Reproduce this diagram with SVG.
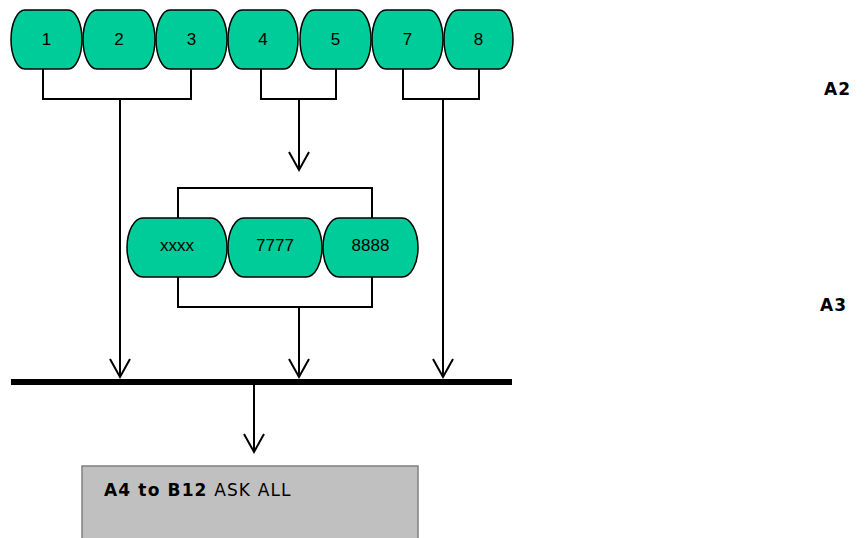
<svg xmlns="http://www.w3.org/2000/svg" width="868" height="538" viewBox="0 0 868 538">
<style>
.node rect{fill:#00CC99;stroke:#000;stroke-width:1.5}
.node text{font-family:"Liberation Sans",Arial,sans-serif;font-size:17px;fill:#000;text-anchor:middle}
.conn{fill:none;stroke:#000;stroke-width:2}
.lbl{font-family:"DejaVu Sans",Verdana,sans-serif;font-size:17px;fill:#000}
</style>
<defs>
<marker id="arr" viewBox="-20 -12 24 24" refX="0" refY="0" markerWidth="24" markerHeight="24" markerUnits="userSpaceOnUse" orient="auto">
<path d="M-18,-10 L0,0 L-18,10" fill="none" stroke="#000" stroke-width="2"/>
</marker>
</defs>
<rect width="868" height="538" fill="#fff"/>
<g id="n1" class="node"><rect x="11" y="10" width="71" height="59" rx="14" ry="29.5"/><text x="46.5" y="45">1</text></g>
<g id="n2" class="node"><rect x="83" y="10" width="72" height="59" rx="14" ry="29.5"/><text x="119" y="45">2</text></g>
<g id="n3" class="node"><rect x="156" y="10" width="71" height="59" rx="14" ry="29.5"/><text x="191.5" y="45">3</text></g>
<g id="n4" class="node"><rect x="228" y="10" width="70" height="59" rx="14" ry="29.5"/><text x="263" y="45">4</text></g>
<g id="n5" class="node"><rect x="300" y="10" width="71" height="59" rx="14" ry="29.5"/><text x="335.5" y="45">5</text></g>
<g id="n7" class="node"><rect x="372" y="10" width="71" height="59" rx="14" ry="29.5"/><text x="407.5" y="45">7</text></g>
<g id="n8" class="node"><rect x="444" y="10" width="69" height="59" rx="14" ry="29.5"/><text x="478.5" y="45">8</text></g>
<g id="nx" class="node"><rect x="127" y="218" width="100" height="59" rx="16" ry="29.5"/><text x="177" y="251">xxxx</text></g>
<g id="n7777" class="node"><rect x="228" y="218" width="94" height="59" rx="16" ry="29.5"/><text x="275" y="251">7777</text></g>
<g id="n8888" class="node"><rect x="323" y="218" width="95" height="59" rx="16" ry="29.5"/><text x="370.5" y="251">8888</text></g>
<g id="connectors">
<path class="conn" d="M43,69 V99 H191 V69"/>
<path class="conn" d="M120,99 V377" marker-end="url(#arr)"/>
<path class="conn" d="M261,69 V99 H336 V69"/>
<path class="conn" d="M299,99 V170" marker-end="url(#arr)"/>
<path class="conn" d="M403,69 V99 H479 V69"/>
<path class="conn" d="M443,99 V377" marker-end="url(#arr)"/>
<path class="conn" d="M178,218 V188 H372 V218"/>
<path class="conn" d="M178,277 V307 H372 V277"/>
<path class="conn" d="M299,307 V377" marker-end="url(#arr)"/>
<line x1="11" y1="382" x2="512" y2="382" stroke="#000" stroke-width="6"/>
<path class="conn" d="M254,382 V452" marker-end="url(#arr)"/>
</g>
<g id="box">
<rect x="82" y="466" width="336" height="80" fill="#C0C0C0" stroke="#808080" stroke-width="1.5"/>
<text class="lbl" x="104" y="496" letter-spacing="1.15"><tspan font-weight="bold">A4 to B12</tspan> ASK ALL</text>
</g>
<g id="labels">
<text class="lbl" x="824" y="95" font-weight="bold" letter-spacing="1">A2</text>
<text class="lbl" x="820" y="311" font-weight="bold" letter-spacing="1">A3</text>
</g>
</svg>
